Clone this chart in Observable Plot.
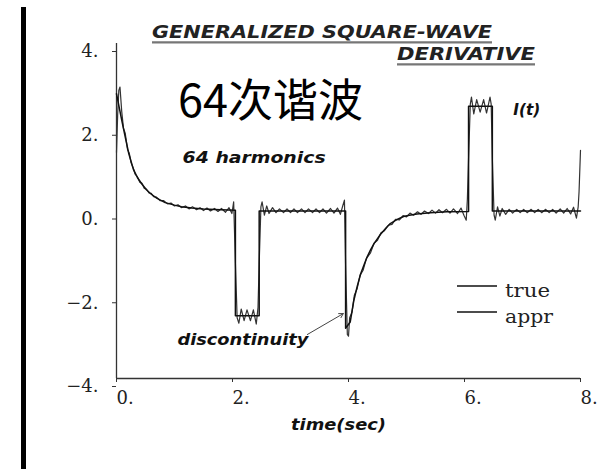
<!DOCTYPE html>
<html><head><meta charset="utf-8">
<script src="https://cdn.jsdelivr.net/npm/d3@7"></script>
<script src="https://cdn.jsdelivr.net/npm/@observablehq/plot@0.6"></script>
<style>
html,body{margin:0;padding:0;background:#fff;}
#wrap{position:relative;width:600px;height:469px;overflow:hidden;background:#fff;}
#wrap > svg{display:block;position:absolute;left:0;top:0;}
#bar{position:absolute;left:21px;top:7px;width:5px;height:462px;background:#000;}
#over{position:absolute;left:0;top:0;pointer-events:none;}
g[aria-label="y-axis tick label"] text, g[aria-label="x-axis tick label"] text{font-size:18px;}
</style></head><body>
<div id="wrap"><div id="bar"></div></div>
<script>
// ---- data ----
const xTicks = [0, 2, 4, 6, 8];
const yTicks = [-4, -2, 0, 2, 4];
const seriesNames = ["true", "appr"];
const titleLines = ["GENERALIZED SQUARE-WAVE", "DERIVATIVE"];
const heading = "64次谐波";
const axisTitle = "time(sec)";
const notes = [
  {t: 1.14, v: 1.14, label: "64 harmonics"},
  {t: 6.84, v: 2.29, label: "I(t)"},
  {t: 1.05, v: -3.19, label: "discontinuity"}
];
const arrows = [{t1: 3.29, v1: -2.95, t2: 3.91, v2: -2.45}];

// true function [t, value]
const truePoints = [
  [0,2.8],[0.05,2.45],[0.09,2.17],[0.15,1.77],[0.21,1.38],[0.29,1.0],[0.36,0.8],
  [0.44,0.64],[0.52,0.5],[0.6,0.4],[0.7,0.3],[0.84,0.2],[1.0,0.14],[1.12,0.1],
  [1.3,0.07],[1.5,0.05],[1.8,0.03],[2.05,0.02],[2.05,-2.5],[2.46,-2.5],[2.46,0],
  [3.95,0],[3.95,-2.8],[4.03,-2.65],[4.09,-2.15],[4.15,-1.8],[4.21,-1.5],[4.27,-1.28],
  [4.32,-1.1],[4.38,-0.93],[4.44,-0.78],[4.55,-0.56],[4.65,-0.4],[4.72,-0.3],
  [4.84,-0.2],[4.95,-0.13],[5.05,-0.1],[5.18,-0.07],[5.41,-0.04],[5.7,-0.02],
  [6.07,-0.01],[6.07,2.5],[6.48,2.5],[6.48,0],[8,0]
];

// 64-harmonic approximation [t, value]
const apprPoints = [
  [0,1.40],[0.02,2.30],[0.04,2.88],[0.06,2.96],[0.09,2.38],[0.12,1.98],[0.15,1.86],
  [0.19,1.47],[0.22,1.38],[0.25,1.16],[0.29,1.02],[0.32,0.88],[0.36,0.82],[0.40,0.69],
  [0.44,0.66],[0.48,0.54],[0.52,0.52],[0.56,0.43],[0.60,0.42],[0.64,0.34],[0.69,0.33],
  [0.75,0.25],[0.81,0.25],[0.88,0.17],[0.94,0.19],[1.00,0.12],[1.06,0.15],[1.12,0.08],
  [1.19,0.12],[1.25,0.05],[1.31,0.10],[1.38,0.03],[1.44,0.08],[1.50,0.01],[1.56,0.07],
  [1.62,0.00],[1.69,0.06],[1.75,-0.01],[1.81,0.06],[1.88,-0.03],[1.94,0.08],[1.99,-0.06],
  [2.02,0.22],[2.05,-1.25],[2.08,-2.55],[2.11,-2.68],[2.15,-2.34],[2.20,-2.62],[2.25,-2.36],
  [2.31,-2.62],[2.36,-2.36],[2.41,-2.70],[2.44,-2.30],[2.46,-1.25],[2.49,0.10],[2.51,0.22],
  [2.55,-0.10],[2.59,0.12],[2.63,-0.06],[2.69,0.08],[2.75,-0.04],[2.81,0.05],[2.88,-0.04],
  [2.94,0.05],[3.00,-0.04],[3.06,0.05],[3.12,-0.04],[3.19,0.05],[3.25,-0.04],[3.31,0.05],
  [3.38,-0.04],[3.44,0.05],[3.50,-0.04],[3.56,0.05],[3.62,-0.05],[3.69,0.06],[3.75,-0.05],
  [3.81,0.07],[3.86,-0.08],[3.90,0.12],[3.93,0.26],[3.95,-1.30],[3.98,-2.95],[4.00,-2.99],
  [4.02,-2.55],[4.06,-2.42],[4.10,-2.02],[4.15,-1.85],[4.20,-1.53],[4.25,-1.42],[4.31,-1.13],
  [4.38,-1.00],[4.44,-0.77],[4.50,-0.70],[4.56,-0.52],[4.62,-0.47],[4.69,-0.34],[4.75,-0.32],
  [4.81,-0.20],[4.88,-0.21],[4.94,-0.11],[5.00,-0.14],[5.06,-0.05],[5.12,-0.10],[5.19,-0.02],
  [5.25,-0.08],[5.31,0.00],[5.38,-0.06],[5.44,0.02],[5.50,-0.05],[5.56,0.03],[5.62,-0.04],
  [5.69,0.04],[5.75,-0.05],[5.81,0.05],[5.88,-0.06],[5.94,0.07],[5.99,-0.10],[6.03,-0.22],
  [6.05,0.30],[6.07,1.25],[6.10,2.55],[6.12,2.72],[6.16,2.32],[6.21,2.66],[6.27,2.36],
  [6.33,2.66],[6.38,2.34],[6.44,2.72],[6.46,2.55],[6.48,1.25],[6.51,-0.10],[6.53,-0.22],
  [6.57,0.10],[6.61,-0.12],[6.65,0.06],[6.71,-0.08],[6.77,0.04],[6.83,-0.05],[6.90,0.04],
  [6.96,-0.04],[7.02,0.04],[7.08,-0.04],[7.15,0.04],[7.21,-0.04],[7.27,0.04],[7.33,-0.04],
  [7.40,0.04],[7.46,-0.04],[7.52,0.04],[7.58,-0.05],[7.65,0.05],[7.71,-0.05],[7.77,0.06],
  [7.83,-0.07],[7.88,0.09],[7.93,-0.17],[7.96,0.10],[7.975,0.46],[8.00,1.45]
];

// ---- chart ----
const fmt = d => (d < 0 ? "\u2212" : "") + Math.abs(d) + ".";
const serif = "'DejaVu Serif', 'Liberation Serif', serif";
const sans = "'DejaVu Sans', 'Liberation Sans', sans-serif";

const chart = Plot.plot({
  width: 600, height: 469,
  marginLeft: 116, marginRight: 20, marginTop: 43, marginBottom: 91,
  x: {domain: [0, 8]},
  y: {domain: [-4, 4]},
  style: {background: "transparent", color: "#222"},
  marks: [
    Plot.axisY({ticks: yTicks, tickFormat: fmt, tickSize: 4, tickPadding: 14, dy: 8,
      fontSize: 18, fontFamily: serif, label: null, stroke: "#333"}),
    Plot.axisX({ticks: xTicks, tickFormat: fmt, tickSize: 4, tickPadding: 9, textAnchor: "start",
      fontSize: 18, fontFamily: serif, label: null, stroke: "#333"}),
    Plot.ruleX([0], {stroke: "#333", strokeWidth: 1.3}),
    Plot.ruleY([-4], {stroke: "#333", strokeWidth: 1.3}),
    Plot.line(apprPoints, {x: d => d[0], y: d => d[1], stroke: "#333", strokeWidth: 1.2}),
    Plot.line(truePoints, {x: d => d[0], y: d => d[1], stroke: "#111", strokeWidth: 1.5}),
    Plot.text(notes, {x: "t", y: "v", text: "label", textAnchor: "start", lineAnchor: "bottom",
      fontSize: 16, fontWeight: "bold", fontStyle: "italic", fontFamily: sans, fill: "#111"}),
    Plot.arrow(arrows, {x1: "t1", y1: "v1", x2: "t2", y2: "v2", stroke: "#444",
      strokeWidth: 1, headLength: 7}),
    Plot.text([axisTitle], {frameAnchor: "bottom", dx: -10, dy: 51, fontSize: 16,
      fontWeight: "bold", fontStyle: "italic", fontFamily: sans, fill: "#111"})
  ]
});
const wrap = document.getElementById("wrap");
wrap.appendChild(chart);

// stretch the sans annotations horizontally like the original lettering
const textWidths = {"64 harmonics": 143, "I(t)": 27, "discontinuity": 131, "time(sec)": 95};
d3.select(chart).selectAll('g[aria-label="text"] text').each(function () {
  const w = textWidths[this.textContent];
  if (w) d3.select(this).attr("textLength", w).attr("lengthAdjust", "spacingAndGlyphs");
});

// ---- title, heading and legend overlay ----
const over = d3.select(wrap).append("svg").attr("id", "over")
  .attr("width", 600).attr("height", 469);

const titleSpec = [
  {x: 152, y: 38, len: 340},
  {x: 397, y: 60, len: 138}
];
titleLines.forEach((s, i) => {
  const p = titleSpec[i];
  over.append("text").attr("x", p.x).attr("y", p.y).text(s)
    .attr("textLength", p.len).attr("lengthAdjust", "spacingAndGlyphs")
    .attr("font-family", sans).attr("font-size", 17.5).attr("font-weight", "bold")
    .attr("font-style", "italic").attr("fill", "#222");
  over.append("line").attr("x1", p.x).attr("x2", p.x + p.len)
    .attr("y1", p.y + 5).attr("y2", p.y + 5).attr("stroke", "#bbb").attr("stroke-width", 2);
  over.append("line").attr("x1", p.x).attr("x2", p.x + p.len)
    .attr("y1", p.y + 4).attr("y2", p.y + 4).attr("stroke", "#333").attr("stroke-width", 1.2);
});

over.append("text").attr("x", 178).attr("y", 117).text(heading)
  .attr("font-family", "'Noto Sans CJK SC', sans-serif").attr("font-size", 45)
  .attr("fill", "#000");

seriesNames.forEach((s, i) => {
  const ly = 286 + i * 26;
  over.append("line").attr("x1", 457).attr("x2", 497).attr("y1", ly).attr("y2", ly)
    .attr("stroke", "#111").attr("stroke-width", 1.3);
  over.append("text").attr("x", 505).attr("y", ly + 11).text(s)
    .attr("textLength", i === 0 ? 45 : 48).attr("lengthAdjust", "spacingAndGlyphs")
    .attr("font-family", serif).attr("font-size", 19).attr("fill", "#222");
});
</script>
</body></html>
